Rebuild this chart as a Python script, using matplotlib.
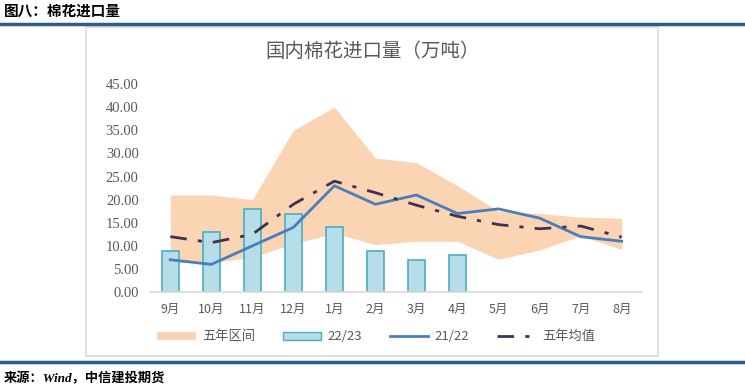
import matplotlib.pyplot as plt
from matplotlib.patches import Rectangle, Patch
from matplotlib.lines import Line2D
import numpy as np

plt.rcParams['font.family'] = ['Noto Sans CJK SC', 'DejaVu Sans']

months = ["9月", "10月", "11月", "12月", "1月", "2月", "3月", "4月", "5月", "6月", "7月", "8月"]
band_high = [21, 21, 20, 35, 40, 29, 28, 23, 17.5, 17, 16.2, 16]
band_low = [6.5, 6.4, 7.5, 10.5, 12.7, 10.3, 11, 11, 7.1, 9.1, 12.2, 9.2]
y2223 = [9, 13, 18, 17, 14, 9, 7, 8]
y2122 = [7, 6, 10, 14, 23, 19, 21, 17, 18, 16, 12, 11]
avg5 = [12, 10.7, 12.5, 19, 24, 21.5, 18.8, 16.4, 14.6, 13.7, 14.3, 11.9]

gray = "#595959"
fig = plt.figure(figsize=(7.45, 3.89), dpi=100)

# page header / footer
fig.text(0.005, 0.972, "图八：棉花进口量", fontsize=10.5, fontweight="bold", va="center", ha="left")
fig.add_artist(Line2D([0, 1], [0.938, 0.938], color="#2E5C8A", lw=2.5))
fig.add_artist(Line2D([0, 1], [0.069, 0.069], color="#2E5C8A", lw=2.5))
fig.text(0.005, 0.028, "来源：Wind，中信建投期货", fontsize=9.5, fontweight="bold", style="italic",
         va="center", family=["Liberation Serif", "Noto Sans CJK SC"])

# chart box
fig.add_artist(Rectangle((0.1154, 0.0848), 0.7676, 0.8458, transform=fig.transFigure,
                         fill=False, edgecolor="#D9D9D9", lw=1.2))
fig.text(0.5, 0.868, "国内棉花进口量（万吨）", fontsize=14, color=gray, ha="center", va="center")

ax = fig.add_axes([0.201, 0.249, 0.661, 0.535])
x = np.arange(len(months))
ax.fill_between(x, band_low, band_high, color="#FAD4B3", lw=0, zorder=1)
ax.bar(x[:len(y2223)], y2223, width=0.42, color="#B7DDE8", edgecolor="#4BACC6", lw=1.2, zorder=2)
ax.plot(x, y2122, color="#4A7EBB", lw=2, zorder=3)
ax.plot(x, avg5, color="#403152", lw=2, dashes=(6, 4, 1.5, 4), zorder=4)

ax.set_xlim(-0.5, len(months) - 0.5)
ax.set_ylim(0, 45)
ax.set_yticks(np.arange(0, 46, 5))
ax.set_yticklabels([f"{v:.2f}" for v in np.arange(0, 46, 5)], family="Liberation Serif",
                   fontsize=10.5, color=gray)
ax.set_xticks(x)
ax.set_xticklabels(months, fontsize=9, color=gray)
for s in ["top", "right", "left"]:
    ax.spines[s].set_visible(False)
ax.spines["bottom"].set_color("#D9D9D9")
ax.spines["bottom"].set_linewidth(1.2)
ax.tick_params(axis="both", length=0, pad=8)

handles = [Patch(facecolor="#FAD4B3", edgecolor="none"),
           Patch(facecolor="#B7DDE8", edgecolor="#4BACC6"),
           Line2D([], [], color="#4A7EBB", lw=2),
           Line2D([], [], color="#403152", lw=2, dashes=(6, 4, 1.5, 4))]
labels = ["五年区间", "22/23", "21/22", "五年均值"]
leg = fig.legend(handles, labels, loc="center", bbox_to_anchor=(0.505, 0.134), ncol=4,
                 frameon=False, fontsize=9.5, handlelength=2.9, handletextpad=0.5,
                 columnspacing=2.1, handleheight=0.6)
for t in leg.get_texts():
    t.set_color(gray)

fig.savefig("out.png", dpi=100)
